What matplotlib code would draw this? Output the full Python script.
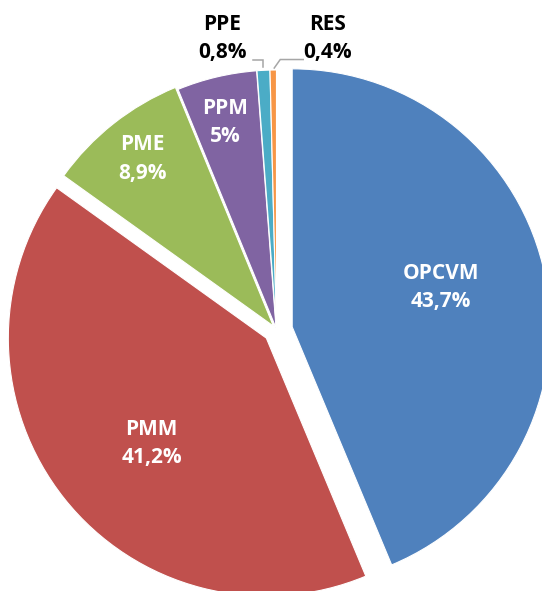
import numpy as np
import matplotlib.pyplot as plt

# values
categories = ["OPCVM", "PMM", "PME", "PPM", "PPE", "RES"]
shares = [43.7, 41.2, 8.9, 5.0, 0.8, 0.4]
pct_labels = ["43,7%", "41,2%", "8,9%", "5%", "0,8%", "0,4%"]
colors = ["#4F81BD", "#C0504D", "#9BBB59", "#8064A2", "#4BACC6", "#F79646"]

# layout (pixel units, axes spans the whole figure)
W, H = 542, 591
R = 258
CX, CY = 276.5, H - 330
explode = [16, 13, 5, 2, 2, 2]
label_dist = [0.657, 0.653, 0.842, 0.829, 1.15, 1.147]
label_turn = [3.2, 3.7, -0.3, 0.5, 7.6, -10.7]
label_color = ["white", "white", "white", "white", "black", "black"]
leaders = {
    4: [(0, 3), (0, 10.5), (-10.5, 10.5)],
    5: [(1, 2), (7, 10.5), (30, 10.5)],
}

fig = plt.figure(figsize=(W / 100, H / 100), dpi=100)
ax = fig.add_axes([0, 0, 1, 1])

wedges, _ = ax.pie(shares, colors=colors, startangle=90, counterclock=False,
                   explode=explode, radius=R, center=(CX, CY),
                   wedgeprops=dict(edgecolor="white", linewidth=0.8))

ax.set_xlim(0, W)
ax.set_ylim(0, H)
ax.set_aspect("equal")
ax.axis("off")

for i, w in enumerate(wedges):
    mid = np.deg2rad((w.theta1 + w.theta2) / 2)
    ang = mid + np.deg2rad(label_turn[i])
    x = CX + label_dist[i] * R * np.cos(ang)
    y = CY + label_dist[i] * R * np.sin(ang)
    ax.text(x, y, f"{categories[i]}\n{pct_labels[i]}", ha="center", va="center",
            color=label_color[i], fontsize=15, fontweight="bold",
            family=["Open Sans", "DejaVu Sans"], linespacing=1.45)
    if i in leaders:
        px = CX + (R + explode[i]) * np.cos(mid)
        py = CY + (R + explode[i]) * np.sin(mid)
        pts = np.array(leaders[i])
        ax.plot(px + pts[:, 0], py + pts[:, 1], color="#A6A6A6", lw=1.1,
                solid_joinstyle="miter")

fig.savefig("out.png", dpi=100)
